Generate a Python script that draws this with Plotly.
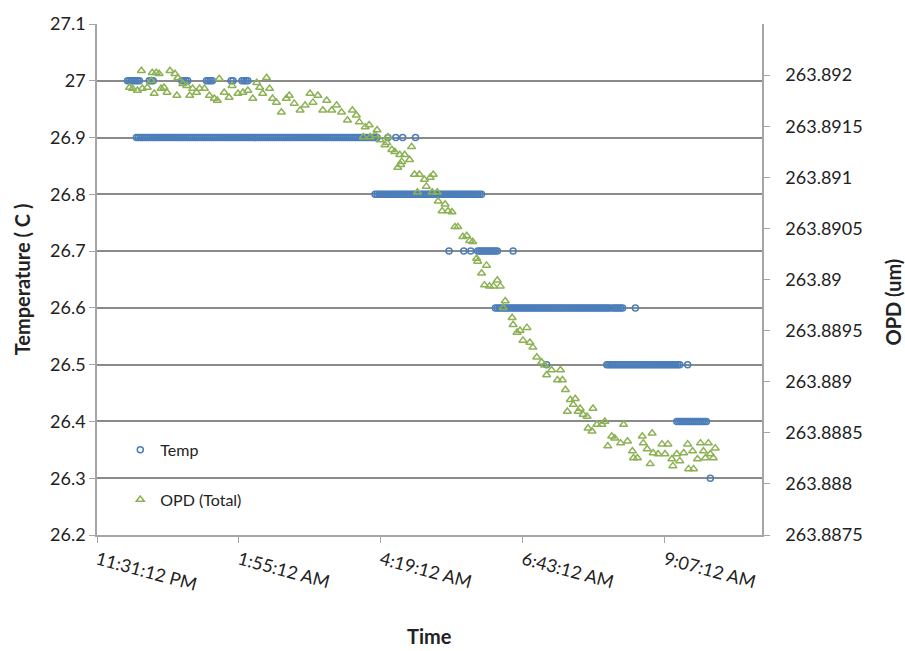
import numpy as np
import plotly.graph_objects as go

# ---- data (time in minutes after 11:31:12 PM) ----
x_tick_minutes = [0, 144, 288, 432, 576]
x_tick_labels = ["11:31:12 PM", "1:55:12 AM", "4:19:12 AM", "6:43:12 AM", "9:07:12 AM"]

temp_ticks = [26.2, 26.3, 26.4, 26.5, 26.6, 26.7, 26.8, 26.9, 27.0, 27.1]
temp_tick_labels = ["26.2", "26.3", "26.4", "26.5", "26.6", "26.7", "26.8", "26.9", "27", "27.1"]
opd_ticks = [263.8875, 263.888, 263.8885, 263.889, 263.8895, 263.89, 263.8905, 263.891, 263.8915, 263.892]
opd_tick_labels = ["263.8875", "263.888", "263.8885", "263.889", "263.8895", "263.89",
                   "263.8905", "263.891", "263.8915", "263.892"]

# Temperature logged at a 2-minute step: runs of constant reading (start, end, value)
temp_run_start = [31, 53, 86, 111, 136, 147, 40, 295, 303, 310, 323, 282, 357, 372, 379, 386, 422,
                  404, 523, 546, 456, 517, 599, 588, 622]
temp_run_end = [43, 58, 92, 117, 139, 153, 284, 295, 303, 310, 323, 390, 357, 372, 379, 406, 422,
                520, 533, 546, 456, 592, 599, 619, 622]
temp_run_value = [27.0, 27.0, 27.0, 27.0, 27.0, 27.0, 26.9, 26.9, 26.9, 26.9, 26.9, 26.8, 26.7, 26.7, 26.7, 26.7, 26.7,
                  26.6, 26.6, 26.6, 26.5, 26.5, 26.5, 26.4, 26.3]
temp_step = 2

opd_time = [33, 36, 41, 45, 46, 51, 55, 56, 58, 60, 63, 65, 68, 71, 74, 79, 81, 82, 87, 91,
            94, 97, 101, 104, 109, 114, 119, 122, 124, 129, 134, 137, 143, 148, 153, 158, 162, 165, 168, 172,
            175, 178, 182, 187, 192, 195, 200, 206, 211, 216, 219, 224, 229, 233, 238, 243, 248, 254, 259, 263,
            266, 270, 272, 276, 277, 282, 284, 287, 292, 294, 295, 299, 302, 305, 307, 308, 309, 312, 317, 319,
            322, 325, 327, 332, 334, 338, 340, 341, 345, 346, 350, 353, 356, 360, 363, 366, 371, 375, 378, 381,
            385, 386, 390, 393, 395, 398, 402, 406, 409, 412, 414, 421, 422, 426, 429, 432, 436, 439, 442, 446,
            451, 454, 456, 461, 467, 470, 472, 475, 477, 480, 483, 485, 488, 490, 493, 497, 498, 502, 503, 507,
            512, 515, 518, 522, 525, 531, 534, 538, 543, 544, 548, 553, 554, 558, 561, 563, 564, 569, 573, 576,
            579, 583, 584, 588, 591, 595, 599, 600, 604, 605, 609, 612, 615, 617, 620, 622, 625, 627]
opd_value = [263.891878, 263.891868, 263.891849, 263.892042, 263.891868, 263.891878, 263.891945, 263.892023,
             263.891820, 263.892023, 263.892013, 263.891868, 263.891878, 263.891829, 263.892042, 263.892013,
             263.891800, 263.891974, 263.891916, 263.891897,
             263.891800, 263.891868, 263.891829, 263.891868, 263.891868, 263.891800, 263.891771, 263.891752,
             263.891965, 263.891829, 263.891781, 263.891897, 263.891820, 263.891829, 263.891849, 263.891771,
             263.891926, 263.891878, 263.891820, 263.891974,
             263.891868, 263.891771, 263.891733, 263.891636, 263.891771, 263.891800, 263.891723, 263.891656,
             263.891704, 263.891820, 263.891733, 263.891800, 263.891656, 263.891752, 263.891656, 263.891704,
             263.891636, 263.891559, 263.891656, 263.891607,
             263.891540, 263.891395, 263.891491, 263.891511, 263.891395, 263.891414, 263.891462, 263.891366,
             263.891317, 263.891337, 263.891395, 263.891269, 263.891250, 263.891095, 263.891221, 263.891124,
             263.891153, 263.891221, 263.891172, 263.891298,
             263.891027, 263.890853, 263.891027, 263.890979, 263.890911, 263.890998, 263.890853, 263.891027,
             263.890853, 263.890766, 263.890670, 263.890737, 263.890670, 263.890660, 263.890515, 263.890515,
             263.890419, 263.890428, 263.890380, 263.890370,
             263.890206, 263.890177, 263.890061, 263.889945, 263.890138, 263.889935, 263.889935, 263.889993,
             263.889935, 263.889723, 263.889790, 263.889626, 263.889558, 263.889481, 263.889500, 263.889404,
             263.889529, 263.889384, 263.889336, 263.889240,
             263.889191, 263.889162, 263.889066, 263.889114, 263.889017, 263.889114, 263.889017, 263.888921,
             263.888708, 263.888824, 263.888776, 263.888834, 263.888708, 263.888737, 263.888679, 263.888660,
             263.888544, 263.888515, 263.888737, 263.888582,
             263.888582, 263.888611, 263.888370, 263.888466, 263.888447, 263.888399, 263.888582, 263.888418,
             263.888321, 263.888254, 263.888254, 263.888466, 263.888399, 263.888341, 263.888196, 263.888495,
             263.888302, 263.888292, 263.888389, 263.888292,
             263.888389, 263.888244, 263.888176, 263.888292, 263.888225, 263.888302, 263.888389, 263.888147,
             263.888321, 263.888147, 263.888244, 263.888399, 263.888321, 263.888254, 263.888399, 263.888292,
             263.888254, 263.888350]

# expand the logged runs into individual readings
temp_time, temp_value = [], []
for s, e, v in zip(temp_run_start, temp_run_end, temp_run_value):
    for t in np.arange(s, e + 0.1, temp_step):
        temp_time.append(float(t))
        temp_value.append(v)

FONT = "Lato, 'Open Sans', sans-serif"
GRID = "#8a8a8a"
AXIS = "#a6a6a6"

fig = go.Figure()
fig.add_trace(go.Scatter(
    x=temp_time, y=temp_value, mode="markers", name="Temp", legendgroup="a",
    marker=dict(symbol="circle-open", size=6, color="#4a7ebb", line=dict(width=1.5)),
))
fig.add_trace(go.Scatter(
    x=opd_time, y=opd_value, mode="markers", name="OPD (Total)", legendgroup="b", yaxis="y2",
    marker=dict(symbol="triangle-up-open", size=7, color="#8db255", line=dict(width=1.5)),
))

fig.update_layout(
    width=905, height=651,
    margin=dict(l=97, r=143, t=18, b=116),
    paper_bgcolor="white", plot_bgcolor="white",
    font=dict(family=FONT, size=18, color="#222"),
    showlegend=True,
    legend=dict(x=0.035, y=0.2, xanchor="left", yanchor="top", bgcolor="rgba(0,0,0,0)",
                tracegroupgap=26, font=dict(size=16, color="#222")),
    xaxis=dict(
        range=[0, 674.4], tickvals=x_tick_minutes, ticktext=x_tick_labels, tickangle=15,
        showgrid=False, zeroline=False, showline=True, linecolor=AXIS, linewidth=1.5,
        ticks="outside", ticklen=6, tickcolor=AXIS, tickfont=dict(size=18), automargin=False,
    ),
    yaxis=dict(
        range=[26.2, 27.1], tickvals=temp_ticks, ticktext=temp_tick_labels,
        showgrid=True, gridcolor=GRID, gridwidth=1.6, zeroline=False,
        showline=True, linecolor=AXIS, linewidth=1.5, ticks="outside", ticklen=6, tickcolor=AXIS,
        tickfont=dict(size=18),
        title=dict(text="<b>Temperature ( C )</b>", font=dict(size=20), standoff=14),
    ),
    yaxis2=dict(
        range=[263.8875, 263.8925], tickvals=opd_ticks, ticktext=opd_tick_labels,
        overlaying="y", side="right", showgrid=False, zeroline=False,
        showline=True, linecolor=AXIS, linewidth=1.5, ticks="outside", ticklen=6, tickcolor=AXIS,
        tickfont=dict(size=18), ticklabelstandoff=12, automargin=False,
    ),
    annotations=[
        dict(text="<b>Time</b>", xref="paper", yref="paper", x=0.5, y=-0.197,
             xanchor="center", yanchor="middle", showarrow=False,
             font=dict(size=20, color="#222")),
        dict(text="<b>OPD (um)</b>", xref="paper", yref="paper", x=1.197, y=0.455,
             xanchor="center", yanchor="middle", showarrow=False, textangle=-90,
             font=dict(size=20, color="#222")),
    ],
)

fig.write_html("out.html")
